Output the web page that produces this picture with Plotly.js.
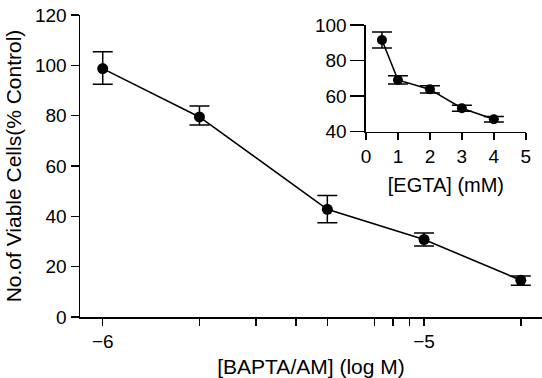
<!DOCTYPE html>
<html>
<head>
<meta charset="utf-8">
<script src="https://cdn.plot.ly/plotly-3.0.1.min.js"></script>
<style>html,body{margin:0;padding:0;background:#fff;}#chart{width:542px;height:378px;}</style>
</head>
<body>
<div id="chart"></div>
<script>
// Main panel: BAPTA/AM concentration (M) vs viable cells (% control)
var baptaConc = [1e-6, 2e-6, 5e-6, 1e-5, 2e-5];
var baptaViable = [98.7, 79.5, 42.8, 30.8, 14.6];
var baptaErrPlus = [6.7, 4.3, 5.5, 2.6, 1.7];
var baptaErrMinus = [6.2, 3.2, 5.3, 2.6, 2.0];
var mainTickVals = [1e-6, 2e-6, 3e-6, 4e-6, 5e-6, 7e-6, 8e-6, 9e-6, 1e-5, 2e-5];
var mainTickText = ['\u22126', '', '', '', '', '', '', '', '\u22125', ''];

// Inset: EGTA concentration (mM) vs viable cells (% control)
var egtaConc = [0.5, 1, 2, 3, 4];
var egtaViable = [91.6, 69.1, 63.8, 53.2, 47.0];
var egtaErr = [4.5, 2.3, 2.1, 1.7, 1.5];

var FONT = 'Liberation Sans, Arial, Helvetica, sans-serif';

var traces = [
  {
    x: baptaConc, y: baptaViable, type: 'scatter', mode: 'lines+markers',
    xaxis: 'x', yaxis: 'y',
    line: {color: '#000', width: 1.6},
    marker: {color: '#000', size: 11},
    error_y: {type: 'data', symmetric: false, array: baptaErrPlus, arrayminus: baptaErrMinus,
              color: '#000', thickness: 1.5, width: 10},
    showlegend: false, cliponaxis: false
  },
  {
    x: egtaConc, y: egtaViable, type: 'scatter', mode: 'lines+markers',
    xaxis: 'x2', yaxis: 'y2',
    line: {color: '#000', width: 1.6},
    marker: {color: '#000', size: 10},
    error_y: {type: 'data', array: egtaErr, color: '#000', thickness: 1.5, width: 10},
    showlegend: false, cliponaxis: false
  }
];

var axisCommon = {
  showgrid: false, zeroline: false, showline: true, linecolor: '#000', linewidth: 1.5,
  ticks: 'outside', tickcolor: '#000', tickwidth: 1.5,
  tickfont: {family: FONT, size: 19, color: '#000'}
};

var layout = {
  width: 542, height: 378,
  margin: {l: 80, r: 0, t: 15, b: 61, pad: 0},
  paper_bgcolor: '#fff', plot_bgcolor: '#fff',
  font: {family: FONT, color: '#000'},
  xaxis: Object.assign({}, axisCommon, {
    type: 'log', range: [-6.0707, -4.633],
    tickmode: 'array', tickvals: mainTickVals, ticktext: mainTickText,
    ticklen: 7, anchor: 'y',
    title: {text: '[BAPTA/AM] (log M)', font: {family: FONT, size: 21, color: '#000'}, standoff: 9}
  }),
  yaxis: Object.assign({}, axisCommon, {
    range: [0, 120], tickmode: 'array', tickvals: [0, 20, 40, 60, 80, 100, 120],
    ticklen: 8, anchor: 'x',
    title: {text: 'No.of Viable Cells(% Control)', font: {family: FONT, size: 21, color: '#000'}, standoff: 7}
  }),
  xaxis2: Object.assign({}, axisCommon, {
    domain: [0.619, 0.965], anchor: 'y2', range: [0, 5],
    tickmode: 'array', tickvals: [0, 1, 2, 3, 4, 5], ticklen: 7,
    title: {text: '[EGTA] (mM)', font: {family: FONT, size: 20, color: '#000'}, standoff: 12}
  }),
  yaxis2: Object.assign({}, axisCommon, {
    domain: [0.6136, 0.9669], anchor: 'x2', range: [40, 100],
    tickmode: 'array', tickvals: [40, 60, 80, 100], ticklen: 14
  })
};

Plotly.newPlot('chart', traces, layout, {displayModeBar: false, staticPlot: true});
</script>
</body>
</html>
